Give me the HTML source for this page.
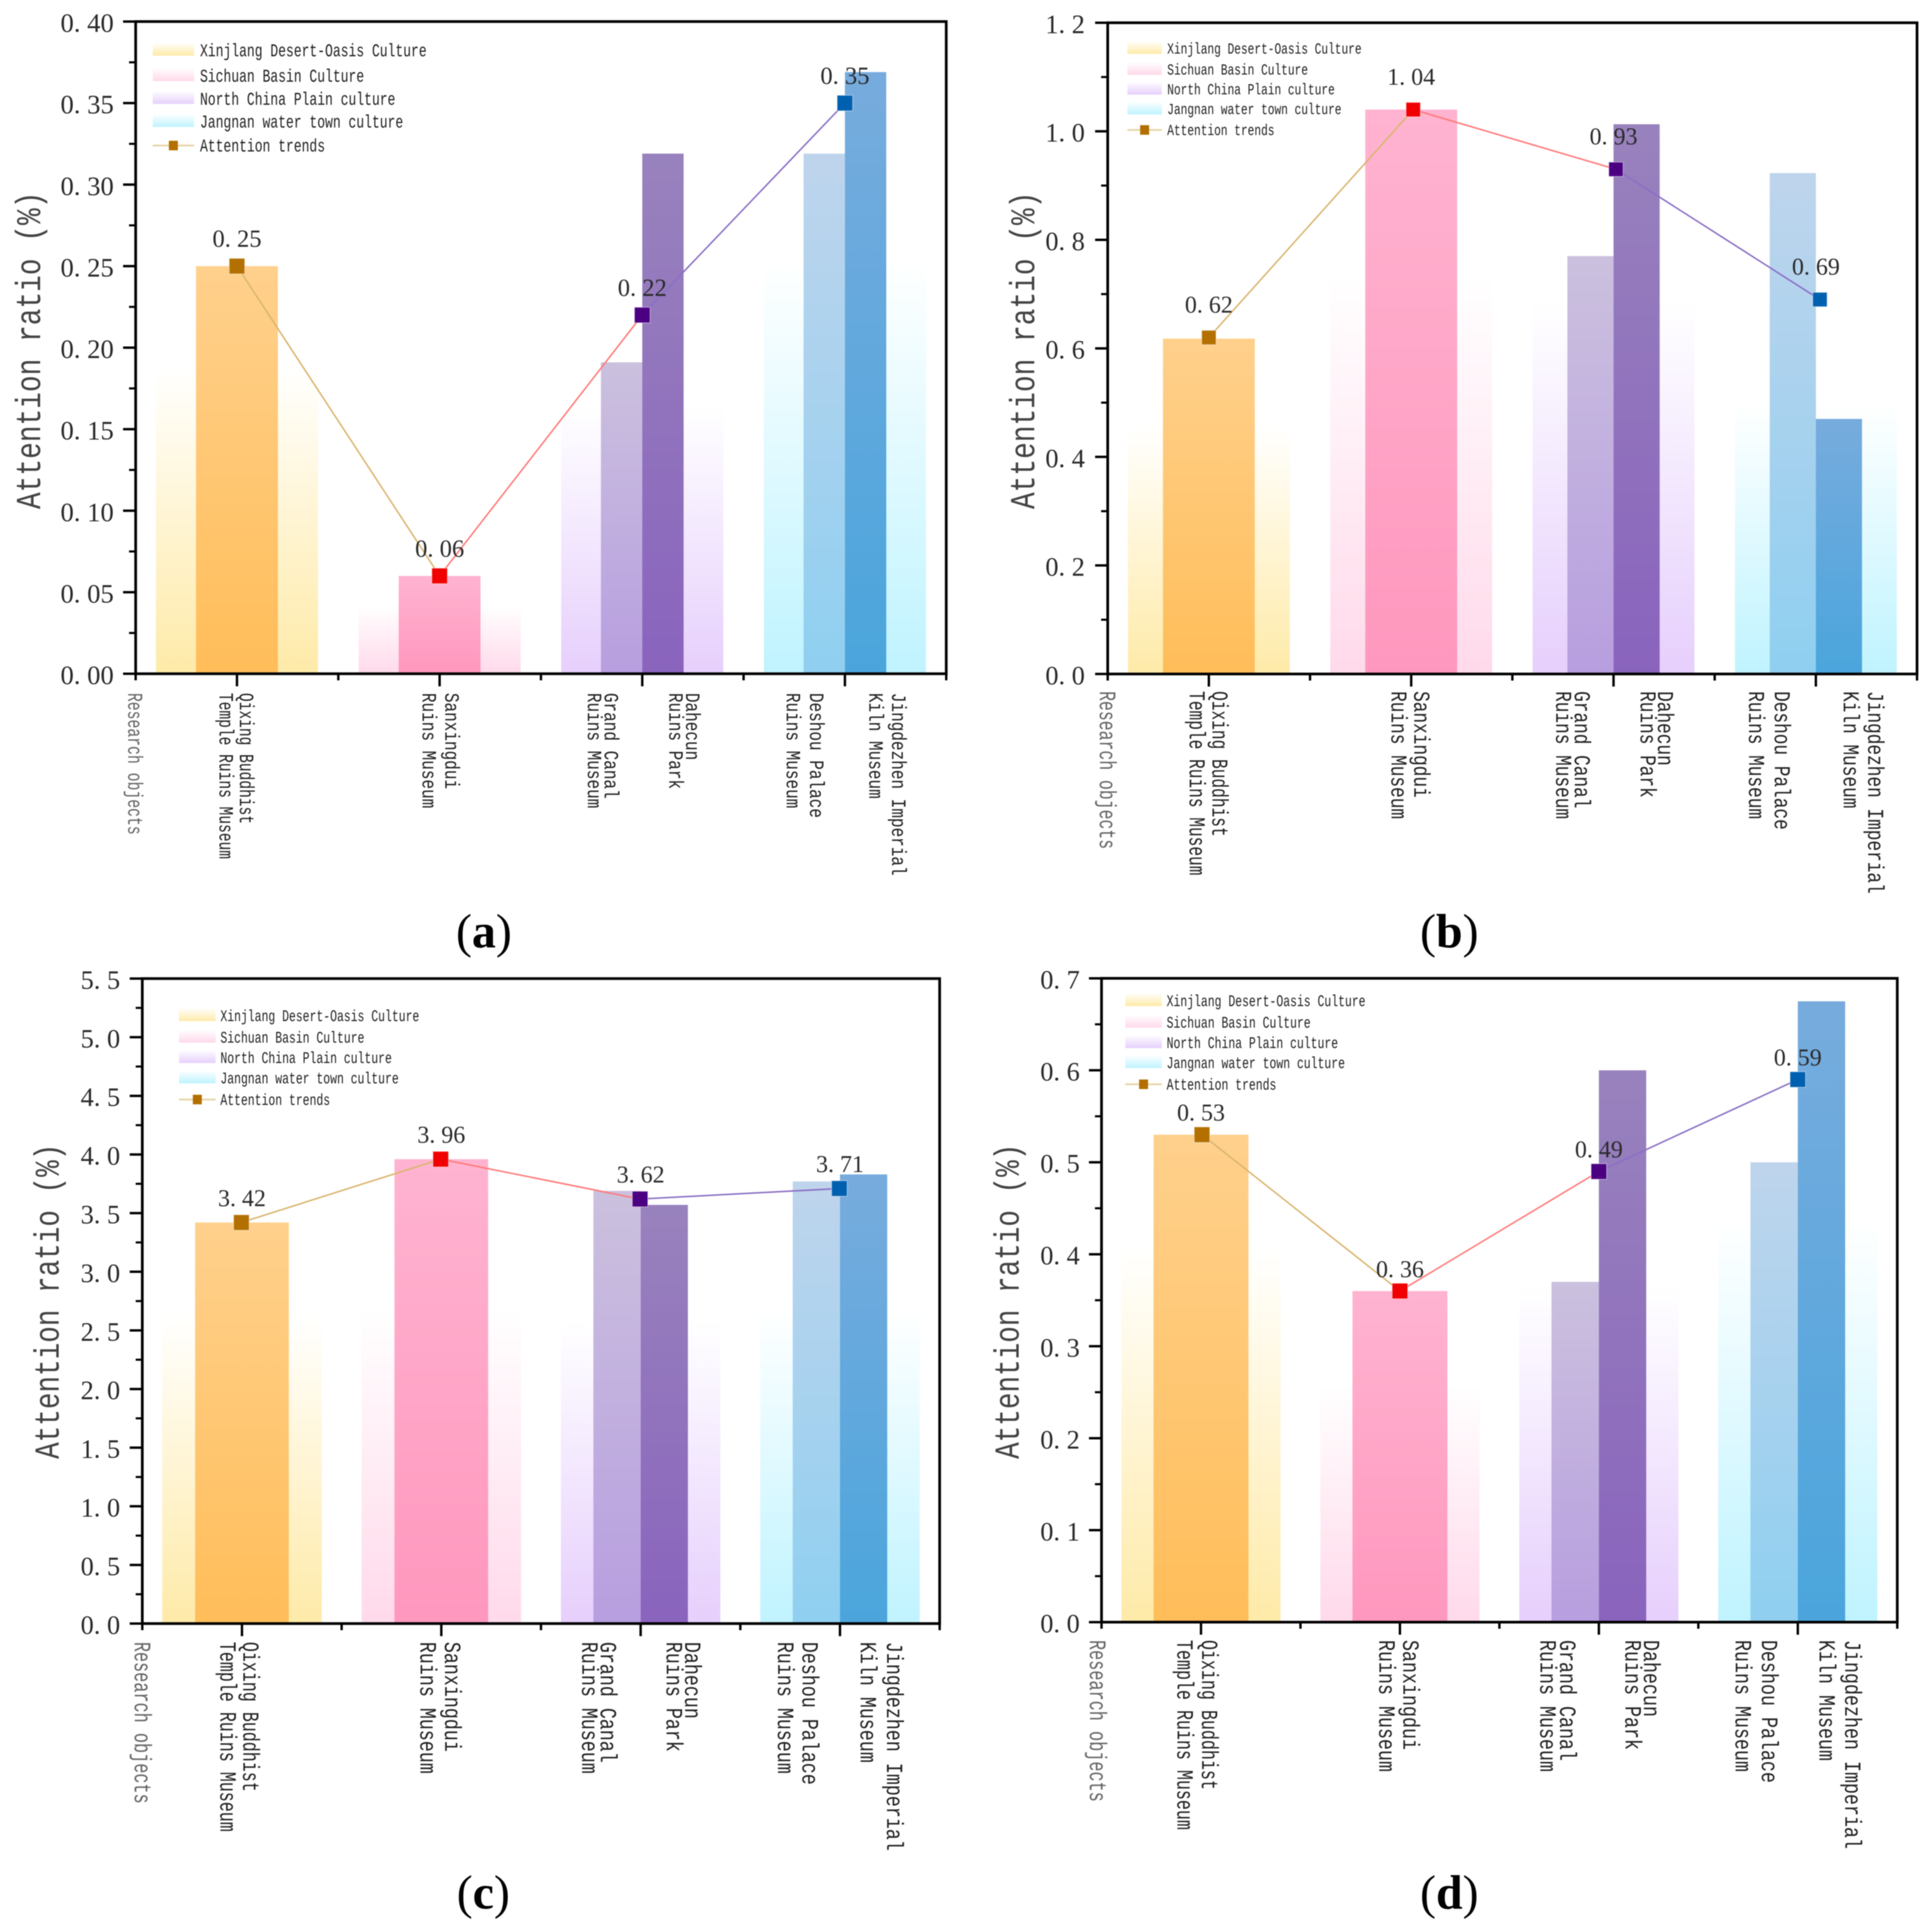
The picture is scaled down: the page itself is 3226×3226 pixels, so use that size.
<!DOCTYPE html>
<html lang="en">
<head>
<meta charset="utf-8">
<title>Attention ratio charts</title>
<style>
html,body{margin:0;padding:0;background:#fff;width:3226px;height:3226px;overflow:hidden}
svg{display:block;filter:blur(.7px)}
text{font-family:"Liberation Serif","Noto Serif CJK SC",serif;white-space:pre}
text.mono{font-family:"Liberation Mono","Noto Serif CJK SC",monospace}
</style>
</head>
<body>
<svg id="figure" xmlns="http://www.w3.org/2000/svg" width="3226" height="3226" viewBox="0 0 3226 3226">
<rect width="3226" height="3226" fill="#fff"/>
<defs>
<linearGradient id="bg-yellow" x1="0" y1="0" x2="0" y2="1"><stop offset="0" stop-color="#fff"/><stop offset="1" stop-color="#feeaa8"/></linearGradient>
<linearGradient id="bg-pink" x1="0" y1="0" x2="0" y2="1"><stop offset="0" stop-color="#fff"/><stop offset="1" stop-color="#ffd9ea"/></linearGradient>
<linearGradient id="bg-purple" x1="0" y1="0" x2="0" y2="1"><stop offset="0" stop-color="#fff"/><stop offset="1" stop-color="#e6cffc"/></linearGradient>
<linearGradient id="bg-blue" x1="0" y1="0" x2="0" y2="1"><stop offset="0" stop-color="#fff"/><stop offset="1" stop-color="#bff3ff"/></linearGradient>
<linearGradient id="fg-yellow" x1="0" y1="0" x2="0" y2="1"><stop offset="0" stop-color="#ffd08c"/><stop offset="1" stop-color="#ffbd59"/></linearGradient>
<linearGradient id="fg-pink" x1="0" y1="0" x2="0" y2="1"><stop offset="0" stop-color="#ffb3d0"/><stop offset="1" stop-color="#ff97bd"/></linearGradient>
<linearGradient id="fg-purple-left" x1="0" y1="0" x2="0" y2="1"><stop offset="0" stop-color="#cbc0de"/><stop offset="1" stop-color="#b79edf"/></linearGradient>
<linearGradient id="fg-purple-right" x1="0" y1="0" x2="0" y2="1"><stop offset="0" stop-color="#9882bd"/><stop offset="1" stop-color="#8963bd"/></linearGradient>
<linearGradient id="fg-blue-left" x1="0" y1="0" x2="0" y2="1"><stop offset="0" stop-color="#bed4ec"/><stop offset="1" stop-color="#8fcff0"/></linearGradient>
<linearGradient id="fg-blue-right" x1="0" y1="0" x2="0" y2="1"><stop offset="0" stop-color="#77abdd"/><stop offset="1" stop-color="#4aa5dc"/></linearGradient>
</defs>
</svg>
<script>
// ---- shared categories and labels ----
const categoryLabels = [
  ['Qixing Buddhist', 'Temple Ruins Museum'],
  ['Sanxingdui', 'Ruins Museum'],
  ['Grand Canal', 'Ruins Museum'],
  ['Dahecun', 'Ruins Park'],
  ['Deshou Palace', 'Ruins Museum'],
  ['Jingdezhen Imperial', 'Kiln Museum']
];
const legendLabels = ['Xinjlang Desert-Oasis Culture', 'Sichuan Basin Culture', 'North China Plain culture', 'Jangnan water town culture', 'Attention trends'];

// ---- panel (a) values ----
const aYTicks = [0, 0.05, 0.10, 0.15, 0.20, 0.25, 0.30, 0.35, 0.40];
const aBackground = [0.19, 0.042, 0.165, 0.255];
const aBars = [[0.25], [0.06], [0.191, 0.319], [0.319, 0.369]];
const aTrend = [0.25, 0.06, 0.22, 0.35];
const aTrendX = [0.5, 1.5, 2.5, 3.5];

// ---- panel (b) values ----
const bYTicks = [0, 0.2, 0.4, 0.6, 0.8, 1.0, 1.2];
const bBackground = [0.46, 0.74, 0.69, 0.50];
const bBars = [[0.618], [1.04], [0.77, 1.013], [0.923, 0.47]];
const bTrend = [0.62, 1.04, 0.93, 0.69];
const bTrendX = [0.5, 1.51, 2.512, 3.52];

// ---- panel (c) values ----
const cYTicks = [0, 0.5, 1.0, 1.5, 2.0, 2.5, 3.0, 3.5, 4.0, 4.5, 5.0, 5.5];
const cBackground = [2.65, 2.7, 2.6, 2.7];
const cBars = [[3.42], [3.96], [3.69, 3.57], [3.77, 3.83]];
const cTrend = [3.42, 3.96, 3.62, 3.71];
const cTrendX = [0.497, 1.497, 2.497, 3.497];

// ---- panel (d) values ----
const dYTicks = [0, 0.1, 0.2, 0.3, 0.4, 0.5, 0.6, 0.7];
const dBackground = [0.41, 0.26, 0.37, 0.44];
const dBars = [[0.53], [0.36], [0.37, 0.60], [0.50, 0.675]];
const dTrend = [0.53, 0.36, 0.49, 0.59];
const dTrendX = [0.505, 1.5, 2.5, 3.5];

// ---- styling keys ----
const bgKeys = ['bg-yellow', 'bg-pink', 'bg-purple', 'bg-blue'];
const fgKeys = [['fg-yellow'], ['fg-pink'], ['fg-purple-left', 'fg-purple-right'], ['fg-blue-left', 'fg-blue-right']];
const markerColors = ['#b37000', '#f00000', '#4b0082', '#0060b0'];
const segmentColors = ['#d9b56e', '#ff7a7a', '#8a6fc5'];
const swatchKeys = ['bg-yellow', 'bg-pink', 'bg-purple', 'bg-blue'];

const panels = [
  {id:'a', ticks:aYTicks, bg:aBackground, bars:aBars, trend:aTrend, trendX:aTrendX, dec:2,
   left:226.5, right:1580, top:36, bottom:1125, singleW:.404, pairW:.204, tickEm:44.5, tickRight:190,
   titleX:46, titleBottom:850, titleAdv:27.9, labelTop:1157, labelAdv:14.6, researchX:225, researchAdv:14.8,
   labelLines:[[412,378],[755,717],[1021,993],[1157,1129],[1364,1325],[1501,1463]],
   valueOff:46, valueEm:41, marker:26,
   legSwatch:[255,324], legText:334, legAdv:13.05, legRows:[84,126.5,164.6,203,243],
   capX:808, capY:1582, capBold:'a'},
  {id:'b', ticks:bYTicks, bg:bBackground, bars:bBars, trend:bTrend, trendX:bTrendX, dec:1,
   left:1849.6, right:3201, top:38, bottom:1125.4, singleW:.454, pairW:.228, tickEm:44, tickRight:1811.5,
   titleX:1706, titleBottom:850, titleAdv:27.9, labelTop:1154, labelAdv:16.2, researchX:1849, researchAdv:16.5,
   labelLines:[[2037,1999],[2374,2336],[2642,2611],[2781,2752],[2976,2933],[3132,3091]],
   valueOff:55, valueEm:40, marker:24,
   legSwatch:[1882.5,1940], legText:1949, legAdv:11.2, legRows:[81,116,149,182,217],
   capX:2420, capY:1582, capBold:'b'},
  {id:'c', ticks:cYTicks, bg:cBackground, bars:cBars, trend:cTrend, trendX:cTrendX, dec:1,
   left:237.6, right:1569, top:1634, bottom:2711, singleW:.47, pairW:.237, tickEm:44, tickRight:200.6,
   titleX:77, titleBottom:2436, titleAdv:27.7, labelTop:2741.5, labelAdv:16.7, researchX:238, researchAdv:16.9,
   labelLines:[[419,381],[756,715],[1016,985],[1157,1126],[1353,1312],[1494,1450]],
   valueOff:41, valueEm:40, marker:26,
   legSwatch:[299,360], legText:368, legAdv:11.46, legRows:[1696,1732,1766,1800,1836],
   capX:807, capY:3187, capBold:'c'},
  {id:'d', ticks:dYTicks, bg:dBackground, bars:dBars, trend:dTrend, trendX:dTrendX, dec:1,
   left:1839.3, right:3168, top:1633.6, bottom:2708.6, singleW:.477, pairW:.238, tickEm:44, tickRight:1803,
   titleX:1680, titleBottom:2436, titleAdv:27.7, labelTop:2738.4, labelAdv:16.7, researchX:1833, researchAdv:16.9,
   labelLines:[[2020,1979],[2356,2316],[2618,2585],[2758,2727],[2955,2911],[3094,3051]],
   valueOff:37, valueEm:40, marker:26,
   legSwatch:[1879,1940], legText:1948, legAdv:11.46, legRows:[1671,1707,1741,1774.5,1810.5],
   capX:2420, capY:3187, capBold:'d'}
];

const SVGNS = 'http://www.w3.org/2000/svg';
const root = document.getElementById('figure');

function svgEl(tag, parent) {
  const el = document.createElementNS(SVGNS, tag);
  parent.appendChild(el);
  return el;
}

// Monospaced label text squeezed to the half-width advance of the original font.
function monoText(parent, str, x, y, adv, rotation, color, emFactor) {
  const em = adv * (emFactor || 2.35);
  const sx = adv / (0.6 * em);
  const el = svgEl('text', parent);
  el.setAttribute('class', 'mono');
  el.setAttribute('x', '0');
  el.setAttribute('y', '0');
  el.setAttribute('font-size', em.toFixed(2));
  el.setAttribute('fill', color);
  el.setAttribute('transform', 'translate(' + x + ' ' + y + ') rotate(' + rotation + ') scale(' + sx.toFixed(4) + ' 1)');
  el.textContent = str;
  return el;
}

// Numeric text centred vertically on y.
function numText(parent, str, x, y, em, anchor) {
  const el = svgEl('text', parent);
  el.setAttribute('x', x);
  el.setAttribute('y', y + em * 0.338);
  el.setAttribute('font-size', em);
  el.setAttribute('text-anchor', anchor);
  el.setAttribute('fill', '#2a2a2a');
  el.textContent = str;
  return el;
}

function fmt(v, dec) {
  return v.toFixed(dec).replace('.', '. ');
}

function drawPanel(p) {
  const g = svgEl('g', root);
  
  

  const yMax = p.ticks[p.ticks.length - 1];
  const xScale = v => p.left + (p.right - p.left) * v / 4;
  const yScale = v => p.bottom - (p.bottom - p.top) * v / yMax;

  // background bars
  p.bg.forEach((v, i) => {
    const c = i + 0.5;
    const r = svgEl('rect', g);
    
    
    r.setAttribute('x', xScale(c - 0.4));
    r.setAttribute('width', xScale(c + 0.4) - xScale(c - 0.4));
    r.setAttribute('y', yScale(v));
    r.setAttribute('height', yScale(0) - yScale(v));
    r.setAttribute('fill', 'url(#' + bgKeys[i] + ')');
  });

  // foreground bars
  p.bars.forEach((vals, i) => {
    const c = i + 0.5;
    vals.forEach((v, j) => {
      const w = vals.length === 1 ? p.singleW : p.pairW;
      const x0 = vals.length === 1 ? c - w / 2 : c - w + j * w;
      const r = svgEl('rect', g);
      
      
      r.setAttribute('x', xScale(x0));
      r.setAttribute('width', xScale(x0 + w) - xScale(x0));
      r.setAttribute('y', yScale(v));
      r.setAttribute('height', yScale(0) - yScale(v));
      r.setAttribute('fill', 'url(#' + fgKeys[i][j] + ')');
    });
  });

  // frame
  const frame = svgEl('rect', g);
  
  
  frame.setAttribute('x', p.left);
  frame.setAttribute('y', p.top);
  frame.setAttribute('width', p.right - p.left);
  frame.setAttribute('height', p.bottom - p.top);
  frame.setAttribute('fill', 'none');
  frame.setAttribute('stroke', '#000');
  frame.setAttribute('stroke-width', '4.5');

  // y ticks and labels
  p.ticks.forEach((t, i) => {
    const y = yScale(t);
    const tick = svgEl('line', g);
    
    
    tick.setAttribute('x1', p.left - 21);
    tick.setAttribute('x2', p.left);
    tick.setAttribute('y1', y);
    tick.setAttribute('y2', y);
    tick.setAttribute('stroke', '#000');
    tick.setAttribute('stroke-width', '4');
    const label = numText(g, fmt(t, p.dec), p.tickRight, y + 2, p.tickEm, 'end');
    
    
    if (i < p.ticks.length - 1) {
      const minor = svgEl('line', g);
      const ym = yScale((t + p.ticks[i + 1]) / 2);
      
      
      minor.setAttribute('x1', p.left - 11);
      minor.setAttribute('x2', p.left);
      minor.setAttribute('y1', ym);
      minor.setAttribute('y2', ym);
      minor.setAttribute('stroke', '#000');
      minor.setAttribute('stroke-width', '3.5');
    }
  });

  // x ticks
  for (let i = 0; i <= 8; i++) {
    const x = xScale(i / 2);
    const tick = svgEl('line', g);
    
    
    tick.setAttribute('x1', x);
    tick.setAttribute('x2', x);
    tick.setAttribute('y1', p.bottom);
    tick.setAttribute('y2', p.bottom + (i % 2 ? 21 : 11));
    tick.setAttribute('stroke', '#000');
    tick.setAttribute('stroke-width', '4');
  }

  // y title
  const title = monoText(g, 'Attention ratio (%)', p.titleX + 21, p.titleBottom, p.titleAdv, -90, '#444', 2.1);
  
  

  // x labels
  const research = monoText(g, 'Research objects', p.researchX - p.researchAdv * 0.76, p.labelTop, p.researchAdv, 90, '#666');
  
  
  categoryLabels.forEach((lines, i) => {
    lines.forEach((line, j) => {
      const adv = i === 0 ? p.labelAdv : p.labelAdv * 1.1;
      const lbl = monoText(g, line, p.labelLines[i][j] - p.labelAdv * 0.78, p.labelTop, adv, 90, '#222', i === 0 ? 2.35 : 2.14);
      
      
    });
  });

  // trend line segments
  for (let i = 0; i < p.trend.length - 1; i++) {
    const seg = svgEl('line', g);
    
    
    seg.setAttribute('x1', xScale(p.trendX[i]));
    seg.setAttribute('y1', yScale(p.trend[i]));
    seg.setAttribute('x2', xScale(p.trendX[i + 1]));
    seg.setAttribute('y2', yScale(p.trend[i + 1]));
    seg.setAttribute('stroke', segmentColors[i]);
    seg.setAttribute('stroke-width', '2.5');
  }

  // trend markers and value labels
  p.trend.forEach((v, i) => {
    const cx = xScale(p.trendX[i]);
    const cy = yScale(v);
    const m = svgEl('rect', g);
    
    
    m.setAttribute('x', cx - p.marker / 2);
    m.setAttribute('y', cy - p.marker / 2);
    m.setAttribute('width', p.marker);
    m.setAttribute('height', p.marker);
    m.setAttribute('fill', markerColors[i]);
    m.setAttribute('stroke', 'rgba(255,255,255,.45)');
    m.setAttribute('stroke-width', '1.5');
    const vl = numText(g, fmt(v, 2), xScale(i + 0.5), cy - p.valueOff, p.valueEm, 'middle');
    
    
  });

  // legend
  const leg = svgEl('g', g);
  
  
  legendLabels.forEach((name, i) => {
    const cy = p.legRows[i];
    const x0 = p.legSwatch[0];
    const x1 = p.legSwatch[1];
    if (i < 4) {
      const sw = svgEl('rect', leg);
      
      
      sw.setAttribute('x', x0);
      sw.setAttribute('width', x1 - x0);
      sw.setAttribute('y', cy - 13);
      sw.setAttribute('height', 22);
      sw.setAttribute('fill', 'url(#' + swatchKeys[i] + ')');
    } else {
      const ln = svgEl('line', leg);
      
      
      ln.setAttribute('x1', x0);
      ln.setAttribute('x2', x1);
      ln.setAttribute('y1', cy);
      ln.setAttribute('y2', cy);
      ln.setAttribute('stroke', '#e8d5a8');
      ln.setAttribute('stroke-width', '3');
      const mk = svgEl('rect', leg);
      
      
      mk.setAttribute('x', (x0 + x1) / 2 - 7.5);
      mk.setAttribute('y', cy - 8);
      mk.setAttribute('width', 15);
      mk.setAttribute('height', 16);
      mk.setAttribute('fill', markerColors[0]);
    }
    const tx = monoText(leg, name, p.legText, cy + p.legAdv * 0.78, p.legAdv, 0, '#222');
    
    
  });

  // caption
  const cap = svgEl('text', g);
  
  
  cap.setAttribute('x', p.capX);
  cap.setAttribute('y', p.capY);
  cap.setAttribute('text-anchor', 'middle');
  cap.setAttribute('font-size', '80');
  cap.setAttribute('fill', '#000');
  const open = svgEl('tspan', cap);
  open.textContent = '(';
  const bold = svgEl('tspan', cap);
  bold.setAttribute('font-weight', 'bold');
  bold.textContent = p.capBold;
  const close = svgEl('tspan', cap);
  close.textContent = ')';
}

panels.forEach(drawPanel);
</script>
</body>
</html>
